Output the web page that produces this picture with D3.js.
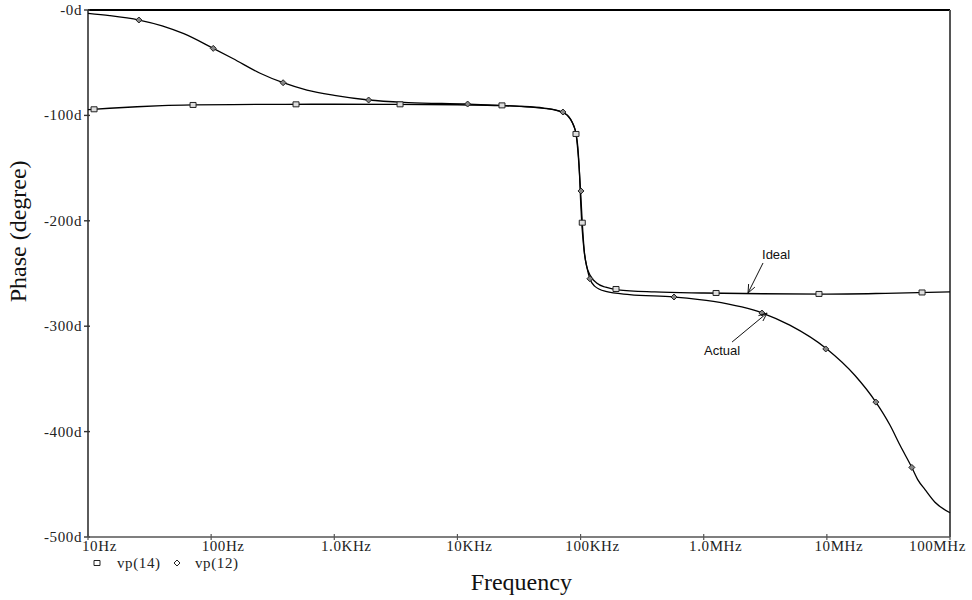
<!DOCTYPE html>
<html>
<head>
<meta charset="utf-8">
<script src="https://cdn.jsdelivr.net/npm/d3@7"></script>
<style>
	body { margin: 0; background: #fff; }
	svg { display: block; }
	.tick-label { font-family: "Liberation Serif", "Times New Roman", serif; font-size: 15px; fill: #222; letter-spacing: 0.6px; }
	.axis-title { font-family: "Liberation Serif", "Times New Roman", serif; font-size: 24px; fill: #111; }
	.note { font-family: "Liberation Sans", Arial, sans-serif; font-size: 13px; fill: #111; }
</style>
</head>
<body>
<div id="chart"></div>
<script>
// vp(14) - ideal response
var idealFreq = [10, 15, 25, 40, 71, 150, 400, 1e3, 3e3, 1e4, 2e4, 4e4, 6e4, 7.2e4, 8e4, 8.6e4, 9e4, 9.2e4, 9.5e4, 9.8e4, 1e5, 1.02e5, 1.04e5, 1.07e5, 1.12e5, 1.2e5, 1.35e5, 1.6e5, 2e5, 4e5, 1e6, 3e6, 1e7, 3e7, 1e8];
var idealPhase = [-94.5, -93.2, -91.8, -90.8, -90.1, -89.7, -89.5, -89.4, -89.5, -89.9, -90.6, -92.2, -94.5, -97.5, -101, -107, -113, -118, -130, -155, -180, -200, -214, -229, -243, -252, -259, -263, -265.5, -267.5, -268.5, -269.2, -269.5, -268.8, -267.5];

// vp(12) - actual response
var actualFreq = [10, 15, 26, 40, 60, 104, 150, 250, 384, 600, 1e3, 1.9e3, 4e3, 1.2e4, 3e4, 5e4, 7.2e4, 8.2e4, 8.8e4, 9.2e4, 9.6e4, 1e5, 1.03e5, 1.07e5, 1.13e5, 1.19e5, 1.3e5, 1.6e5, 2.5e5, 5.7e5, 1.2e6, 3e6, 5e6, 1e7, 1.7e7, 2.5e7, 3.26e7, 3.93e7, 4.9e7, 5.5e7, 6.27e7, 7.55e7, 1e8];
var actualPhase = [-3.2, -5.3, -9.5, -15, -22.5, -36.4, -46, -60, -69, -76, -81, -85.4, -87.8, -89.2, -91.2, -93, -97, -103, -110, -118, -140, -172, -200, -228, -245, -255, -262, -267, -270, -272.3, -276.5, -287.5, -299, -321.6, -347, -372, -394, -413, -434, -446, -455, -467, -477];

// marker positions along each trace
var idealMarkFreq = [11.2, 71.3, 489, 3.42e3, 2.3e4, 9.18e4, 1.032e5, 1.94e5, 1.26e6, 8.63e6, 5.93e7];
var idealMarkPhase = [-94.2, -90.1, -89.5, -89.5, -90.5, -117.6, -201.8, -264.7, -268.5, -269.4, -268];
var actualMarkFreq = [25.9, 104, 384, 1.9e3, 1.21e4, 7.19e4, 1.008e5, 1.19e5, 5.74e5, 2.97e6, 9.8e6, 2.5e7, 4.9e7];
var actualMarkPhase = [-9.5, -36.4, -69, -85.4, -89.2, -96.8, -171.7, -255, -272.3, -287.5, -321.6, -372, -434];

// axes
var xTickValues = [10, 100, 1e3, 1e4, 1e5, 1e6, 1e7, 1e8];
var xTickLabels = ["10Hz", "100Hz", "1.0KHz", "10KHz", "100KHz", "1.0MHz", "10MHz", "100MHz"];
var yTickValues = [0, -100, -200, -300, -400, -500];
var yTickLabels = ["-0d", "-100d", "-200d", "-300d", "-400d", "-500d"];

var margin = { top: 10, right: 22, bottom: 63, left: 88 };
var width = 972 - margin.left - margin.right;
var height = 600 - margin.top - margin.bottom;

var svg = d3.select("#chart")
	.append("svg")
	.attr("width", 972)
	.attr("height", 600)
	.append("g")
	.attr("transform", "translate(" + margin.left + "," + margin.top + ")");

//Scales
var x = d3.scaleLog().domain([10, 1e8]).range([0, width]);
var y = d3.scaleLinear().domain([0, -500]).range([0, height]);

//Frame: top and right border
svg.append("line").attr("x1", 0).attr("x2", width).attr("y1", 0).attr("y2", 0)
	.attr("stroke", "#000").attr("stroke-width", 2);
svg.append("line").attr("x1", width).attr("x2", width).attr("y1", 0).attr("y2", height)
	.attr("stroke", "#555").attr("stroke-width", 2);

//y axis
svg.append("line").attr("x1", 0).attr("x2", 0).attr("y1", 0).attr("y2", height)
	.attr("stroke", "#333").attr("stroke-width", 1.6);
svg.selectAll(".ytick")
	.data(yTickValues)
	.enter()
	.append("line")
	.attr("class", "ytick")
	.attr("x1", -4).attr("x2", 2)
	.attr("y1", function(d) { return y(d); })
	.attr("y2", function(d) { return y(d); })
	.attr("stroke", "#333").attr("stroke-width", 1.4);
svg.selectAll(".ylabel")
	.data(yTickValues)
	.enter()
	.append("text")
	.attr("class", "tick-label ylabel")
	.attr("x", -6)
	.attr("y", function(d) { return y(d) + 5; })
	.attr("text-anchor", "end")
	.text(function(d, i) { return yTickLabels[i]; });

//x axis
svg.append("line").attr("x1", 0).attr("x2", width).attr("y1", height).attr("y2", height)
	.attr("stroke", "#555").attr("stroke-width", 1.6);
svg.selectAll(".xtick")
	.data(xTickValues)
	.enter()
	.append("line")
	.attr("class", "xtick")
	.attr("x1", function(d) { return x(d); })
	.attr("x2", function(d) { return x(d); })
	.attr("y1", height - 3).attr("y2", height + 3)
	.attr("stroke", "#555").attr("stroke-width", 1.2);
svg.selectAll(".xlabel")
	.data(xTickValues)
	.enter()
	.append("text")
	.attr("class", "tick-label xlabel")
	.attr("x", function(d, i) {
		if (i === 0) return -6;
		if (i === xTickValues.length - 1) return width + 16;
		return x(d) + 12;
	})
	.attr("y", height + 14)
	.attr("text-anchor", function(d, i) {
		if (i === 0) return "start";
		if (i === xTickValues.length - 1) return "end";
		return "middle";
	})
	.text(function(d, i) { return xTickLabels[i]; });

//Axis titles
svg.append("text")
	.attr("class", "axis-title")
	.attr("x", x(3.3e4))
	.attr("y", height + 53)
	.attr("text-anchor", "middle")
	.text("Frequency");
svg.append("text")
	.attr("class", "axis-title")
	.attr("transform", "translate(" + (-62) + "," + (height * 0.42) + ") rotate(-90)")
	.attr("text-anchor", "middle")
	.text("Phase (degree)");

//Traces
var line = d3.line()
	.x(function(d) { return x(d[0]); })
	.y(function(d) { return y(d[1]); })
	.curve(d3.curveMonotoneX);

var idealData = d3.zip(idealFreq, idealPhase);
var actualData = d3.zip(actualFreq, actualPhase);

svg.append("path").datum(actualData)
	.attr("d", line).attr("fill", "none").attr("stroke", "#000").attr("stroke-width", 1.3);
svg.append("path").datum(idealData)
	.attr("d", line).attr("fill", "none").attr("stroke", "#000").attr("stroke-width", 1.3);

//Markers
var square = "M-3,-2.5H3V2.5H-3Z";
var diamond = "M0,-3L3,0L0,3L-3,0Z";
svg.selectAll(".mk-ideal")
	.data(d3.zip(idealMarkFreq, idealMarkPhase))
	.enter()
	.append("path")
	.attr("class", "mk-ideal")
	.attr("d", square)
	.attr("transform", function(d) { return "translate(" + x(d[0]) + "," + y(d[1]) + ")"; })
	.attr("fill", "#ddd").attr("stroke", "#222").attr("stroke-width", 1);
svg.selectAll(".mk-actual")
	.data(d3.zip(actualMarkFreq, actualMarkPhase))
	.enter()
	.append("path")
	.attr("class", "mk-actual")
	.attr("d", diamond)
	.attr("transform", function(d) { return "translate(" + x(d[0]) + "," + y(d[1]) + ")"; })
	.attr("fill", "#888").attr("stroke", "#222").attr("stroke-width", 1);

//Annotations with open arrowheads
var arrow = function(x1, y1, x2, y2) {
	var a = Math.atan2(y2 - y1, x2 - x1), len = 9, spread = 0.4;
	svg.append("line").attr("x1", x1).attr("y1", y1).attr("x2", x2).attr("y2", y2)
		.attr("stroke", "#111").attr("stroke-width", 1);
	svg.append("path")
		.attr("d", "M" + (x2 - len * Math.cos(a - spread)) + "," + (y2 - len * Math.sin(a - spread)) +
			"L" + x2 + "," + y2 +
			"L" + (x2 - len * Math.cos(a + spread)) + "," + (y2 - len * Math.sin(a + spread)))
		.attr("fill", "none").attr("stroke", "#111").attr("stroke-width", 1);
};
var idealTip = [x(2.29e6), y(-268.5)];
arrow(idealTip[0] + 15, idealTip[1] - 30, idealTip[0], idealTip[1]);
svg.append("text").attr("class", "note")
	.attr("x", idealTip[0] + 14).attr("y", idealTip[1] - 34)
	.text("Ideal");

var actualTip = [x(3.27e6), y(-287.5)];
arrow(actualTip[0] - 35, actualTip[1] + 29, actualTip[0], actualTip[1]);
svg.append("text").attr("class", "note")
	.attr("x", actualTip[0] - 45).attr("y", actualTip[1] + 42)
	.attr("text-anchor", "middle")
	.text("Actual");

//Legend
var legend = svg.append("g").attr("transform", "translate(0," + (height + 26) + ")");
legend.append("path").attr("d", square).attr("transform", "translate(9,0)")
	.attr("fill", "#fff").attr("stroke", "#222").attr("stroke-width", 1);
legend.append("text").attr("class", "tick-label").attr("x", 29).attr("y", 5).text("vp(14)");
legend.append("path").attr("d", diamond).attr("transform", "translate(89,0)")
	.attr("fill", "#fff").attr("stroke", "#222").attr("stroke-width", 1);
legend.append("text").attr("class", "tick-label").attr("x", 107).attr("y", 5).text("vp(12)");
</script>
</body>
</html>
